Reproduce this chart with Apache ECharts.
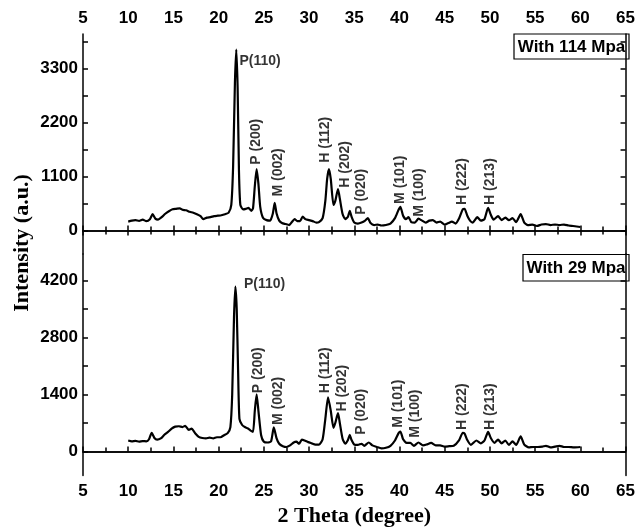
<!DOCTYPE html>
<html>
<head>
<meta charset="utf-8">
<script src="https://cdn.jsdelivr.net/npm/echarts@6/dist/echarts.min.js"></script>
<style>
  html, body { margin: 0; padding: 0; background: #fff; }
  #chart { width: 638px; height: 531px; }
</style>
</head>
<body>
<div id="chart"></div>
<script>
// 2 theta / intensity, sample pressed with 114 MPa (top panel)
const theta114 = [10.0, 10.4, 10.8, 11.2, 11.6, 12.0, 12.4, 12.7, 13.0, 13.3, 13.7, 14.1, 14.5, 14.9, 15.3, 15.7, 16.0, 16.4, 16.8, 17.2,
  17.6, 18.0, 18.3, 18.7, 19.1, 19.5, 19.9, 20.3, 20.7, 21.1, 21.4, 21.6, 21.8, 21.95, 22.1, 22.25, 22.4, 22.7, 23.0, 23.3,
  23.6, 23.8, 24.0, 24.2, 24.4, 24.6, 24.9, 25.3, 25.7, 26.0, 26.2, 26.4, 26.7, 27.0, 27.4, 27.8, 28.1, 28.4, 28.7, 29.0,
  29.3, 29.6, 30.0, 30.4, 30.8, 31.1, 31.5, 31.8, 32.0, 32.2, 32.4, 32.7, 32.9, 33.2, 33.4, 33.7, 34.0, 34.3, 34.5, 34.7,
  35.0, 35.4, 35.8, 36.2, 36.5, 36.8, 37.2, 37.6, 38.0, 38.5, 39.0, 39.5, 39.9, 40.1, 40.4, 40.7, 41.0, 41.3, 41.7, 42.1,
  42.5, 42.9, 43.3, 43.7, 44.1, 44.5, 45.0, 45.4, 45.8, 46.2, 46.6, 47.0, 47.2, 47.5, 47.8, 48.1, 48.6, 49.0, 49.4, 49.8,
  50.1, 50.4, 50.9, 51.3, 51.7, 52.1, 52.5, 52.9, 53.4, 53.8, 54.2, 54.7, 55.2, 55.7, 56.2, 56.7, 57.2, 57.7, 58.2, 58.7,
  59.2, 59.6, 60.0]
const int114 = [180, 200, 210, 195, 220, 190, 230, 330, 240, 220, 270, 340, 390, 430, 440, 450, 420, 410, 380, 360,
  330, 290, 230, 260, 270, 290, 300, 310, 330, 360, 520, 1300, 3000, 3680, 2900, 1200, 520, 430, 440, 460,
  400, 450, 900, 1250, 950, 480, 260, 210, 200, 350, 560, 350, 200, 150, 130, 110, 170, 230, 190, 190,
  280, 230, 210, 190, 160, 170, 250, 600, 1050, 1250, 1050, 520, 600, 840, 650, 340, 230, 280, 400, 280,
  160, 140, 160, 200, 250, 150, 110, 120, 100, 110, 140, 250, 420, 480, 300, 230, 270, 170, 160, 240,
  200, 160, 200, 210, 160, 180, 120, 150, 180, 140, 250, 430, 440, 300, 200, 160, 270, 200, 230, 460,
  320, 220, 290, 210, 260, 210, 250, 170, 330, 160, 110, 120, 90, 120, 130, 110, 120, 110, 120, 100,
  90, 80, 70]

// sample pressed with 29 MPa (bottom panel)
const theta29 = [10.0, 10.4, 10.8, 11.2, 11.6, 12.0, 12.3, 12.6, 12.9, 13.2, 13.6, 14.0, 14.4, 14.8, 15.2, 15.6, 16.0, 16.3, 16.7, 17.0,
  17.4, 17.8, 18.2, 18.6, 19.0, 19.4, 19.8, 20.2, 20.6, 21.0, 21.3, 21.5, 21.7, 21.85, 22.0, 22.15, 22.3, 22.6, 22.9, 23.2,
  23.5, 23.8, 24.0, 24.2, 24.4, 24.7, 25.0, 25.4, 25.8, 26.1, 26.4, 26.7, 27.1, 27.5, 27.9, 28.3, 28.6, 28.9, 29.2, 29.5,
  29.9, 30.3, 30.7, 31.1, 31.5, 31.8, 32.1, 32.4, 32.7, 32.9, 33.2, 33.4, 33.7, 34.0, 34.3, 34.5, 34.7, 35.0, 35.4, 35.8,
  36.1, 36.6, 37.0, 37.5, 38.0, 38.5, 39.0, 39.5, 39.9, 40.1, 40.4, 40.8, 41.2, 41.6, 42.1, 42.6, 43.0, 43.5, 44.0, 44.5,
  45.0, 45.5, 46.0, 46.6, 47.0, 47.2, 47.5, 47.9, 48.5, 49.0, 49.4, 49.8, 50.1, 50.5, 50.9, 51.3, 51.7, 52.1, 52.5, 52.9,
  53.4, 53.8, 54.3, 54.8, 55.3, 55.8, 56.2, 56.7, 57.2, 57.7, 58.2, 58.7, 59.3, 60.0]
const int29 = [270, 250, 260, 240, 255, 250, 300, 460, 330, 290, 320, 410, 480, 560, 610, 620, 600, 630, 530, 560,
  450, 360, 330, 320, 340, 320, 350, 350, 400, 450, 600, 1400, 3300, 4050, 3500, 2000, 800, 650, 600, 570,
  520, 480, 1000, 1400, 1000, 400, 240, 220, 250, 590, 330, 190, 130, 110, 150, 220, 240, 190, 290, 270,
  230, 200, 170, 170, 300, 800, 1330, 1000, 580, 700, 940, 700, 320, 190, 280, 410, 280, 170, 160, 190,
  140, 220, 150, 110, 75, 90, 140, 270, 450, 490, 300, 210, 210, 140, 220, 150, 170, 210, 150, 150,
  120, 130, 140, 280, 460, 440, 280, 160, 270, 200, 270, 480, 330, 210, 290, 200, 270, 160, 250, 160,
  370, 170, 100, 110, 110, 120, 140, 100, 120, 140, 110, 110, 100, 110]

// peak labels: [2theta, intensity at the start of the text, text, vertical?]
const peaks114 = [
  [22.3, 3450, 'P(110)', false],
  [24.2, 1340, 'P (200)', true],
  [26.6, 690, 'M (002)', true],
  [31.75, 1380, 'H (112)', true],
  [33.95, 870, 'H (202)', true],
  [35.77, 320, 'P (020)', true],
  [40.1, 540, 'M (101)', true],
  [42.2, 280, 'M (100)', true],
  [46.95, 520, 'H (222)', true],
  [50.05, 520, 'H (213)', true]
]
const peaks29 = [
  [22.8, 4100, 'P(110)', false],
  [24.4, 1430, 'P (200)', true],
  [26.55, 650, 'M (002)', true],
  [31.8, 1430, 'H (112)', true],
  [33.7, 980, 'H (202)', true],
  [35.77, 410, 'P (020)', true],
  [39.9, 580, 'M (101)', true],
  [41.7, 335, 'M (100)', true],
  [46.9, 530, 'H (222)', true],
  [50.05, 530, 'H (213)', true]
]

const yLabels114 = [0, 1100, 2200, 3300]
const yTicks114 = [0, 550, 1100, 1650, 2200, 2750, 3300, 3850]
const yLabels29 = [0, 1400, 2800, 4200]
const yTicks29 = [0, 700, 1400, 2100, 2800, 3500, 4200]
const legendNames = ['With 114 Mpa', 'With 29 Mpa']

const sans = 'Liberation Sans, Arial, sans-serif'
const serif = 'Liberation Serif, Times New Roman, serif'
const lineCol = '#000'

const chart = echarts.init(document.getElementById('chart'))

const xAxisBase = (gridIndex, position, showLabel, showTick) => ({
  type: 'value',
  gridIndex,
  position,
  min: 5,
  max: 65,
  interval: 5,
  axisLine: { show: true, lineStyle: { color: lineCol, width: 1.5 } },
  axisTick: { show: showTick, inside: true, length: 5, lineStyle: { color: lineCol, width: 1.5 } },
  minorTick: { show: showTick, splitNumber: 2, length: 4, lineStyle: { color: lineCol, width: 1.5 } },
  axisLabel: {
    show: showLabel,
    formatter: v => String(v),
    color: '#000',
    fontFamily: sans,
    fontWeight: 'bold',
    fontSize: 17,
    margin: 7
  },
  splitLine: { show: false }
})

const yAxisBase = (gridIndex, position, min, max, labels, ticks, showLabel) => ({
  type: 'value',
  gridIndex,
  position,
  min,
  max,
  axisLine: { show: true, lineStyle: { color: lineCol, width: 1.5 } },
  axisTick: { show: true, inside: true, length: 5, customValues: ticks, lineStyle: { color: lineCol, width: 1.5 } },
  axisLabel: {
    show: showLabel,
    customValues: labels,
    formatter: v => String(v),
    color: '#000',
    fontFamily: sans,
    fontWeight: 'bold',
    fontSize: 17,
    margin: 5
  },
  splitLine: { show: false }
})

const peakSeries = (list, xi, yi) => ({
  type: 'scatter',
  xAxisIndex: xi,
  yAxisIndex: yi,
  symbolSize: 0,
  silent: true,
  data: list.map(p => ({
    value: [p[0], p[1]],
    label: {
      show: true,
      formatter: p[2],
      position: [0, 0],
      rotate: p[3] ? 90 : 0,
      align: 'left',
      verticalAlign: 'middle',
      color: '#000',
      fontFamily: sans,
      fontWeight: 'bold',
      fontSize: 14
    }
  }))
})

// framed sample names in the upper right corner of each panel
const legendBox = (text, x, y, w, h) => ({
  type: 'group',
  children: [
    {
      type: 'rect',
      shape: { x, y, width: w, height: h },
      style: { fill: '#fff', stroke: '#000', lineWidth: 1.2 }
    },
    {
      type: 'text',
      x: x + w / 2,
      y: y + h / 2 + 1,
      style: {
        text,
        fill: '#000',
        font: 'bold 17px ' + sans,
        textAlign: 'center',
        textVerticalAlign: 'middle'
      }
    }
  ]
})

const option = {
  backgroundColor: '#fff',
  animation: false,
  grid: [
    { left: 83, top: 34, width: 546, height: 220 },
    { left: 83, top: 254, width: 546, height: 221.5 }
  ],
  xAxis: [
    xAxisBase(0, 'top', true, true),
    xAxisBase(0, 'bottom', false, true),
    xAxisBase(1, 'top', false, false),
    Object.assign(xAxisBase(1, 'bottom', true, true), {
      name: '2 Theta (degree)',
      nameLocation: 'middle',
      nameGap: 30,
      nameTextStyle: { color: '#000', fontFamily: serif, fontWeight: 'bold', fontSize: 22 }
    })
  ],
  yAxis: [
    yAxisBase(0, 'left', -480, 4000, yLabels114, yTicks114, true),
    yAxisBase(0, 'right', -480, 4000, yLabels114, yTicks114, false),
    yAxisBase(1, 'left', -590, 4850, yLabels29, yTicks29, true),
    yAxisBase(1, 'right', -590, 4850, yLabels29, yTicks29, false)
  ],
  graphic: [
    {
      type: 'text',
      x: 22,
      y: 243,
      rotation: Math.PI / 2,
      style: {
        text: 'Intensity (a.u.)',
        fill: '#000',
        font: 'bold 22px ' + serif,
        textAlign: 'center',
        textVerticalAlign: 'middle'
      }
    },
    legendBox(legendNames[0], 514, 34, 115, 25),
    legendBox(legendNames[1], 523, 254.5, 106, 26.5)
  ],
  series: [
    {
      type: 'line',
      xAxisIndex: 0,
      yAxisIndex: 0,
      data: theta114.map((t, i) => [t, int114[i]]),
      showSymbol: false,
      smooth: 0.2,
      lineStyle: { color: lineCol, width: 2.2 }
    },
    {
      type: 'line',
      xAxisIndex: 3,
      yAxisIndex: 2,
      data: theta29.map((t, i) => [t, int29[i]]),
      showSymbol: false,
      smooth: 0.2,
      lineStyle: { color: lineCol, width: 2.2 }
    },
    peakSeries(peaks114, 0, 0),
    peakSeries(peaks29, 3, 2)
  ]
}

chart.setOption(option)
</script>
</body>
</html>
